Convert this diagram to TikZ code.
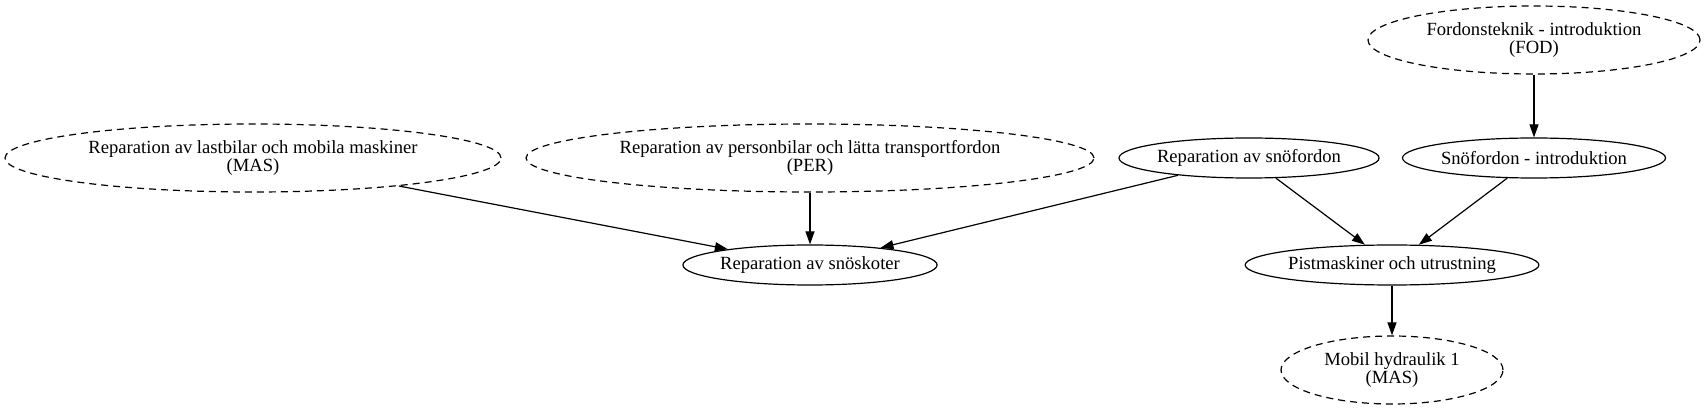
\documentclass[tikz,border=0pt]{standalone}
\usepackage{fontspec}
\setmainfont{Liberation Serif}
\usetikzlibrary{shapes.geometric,arrows.meta}

\begin{document}
\begin{tikzpicture}[x=1pt, y=-1pt,
    kurs_node/.style={ellipse,draw,line width=1.2pt,inner sep=0pt,align=center,
        font=\fontsize{18.6}{18}\selectfont},
    extern_node/.style={kurs_node,dash pattern=on 7pt off 5pt},
    krav/.style={line width=1.2pt,-{Triangle[length=13pt,width=9pt]}}]

    \useasboundingbox (0,0) rectangle (1707,411);

    \node[extern_node,minimum width=332pt,minimum height=68pt] (fod) at (1534,40) {Fordonsteknik - introduktion\\(FOD)};
    \node[extern_node,minimum width=496pt,minimum height=68pt] (mas) at (253,158) {Reparation av lastbilar och mobila maskiner\\(MAS)};
    \node[extern_node,minimum width=568pt,minimum height=68pt] (per) at (810,158) {Reparation av personbilar och l\"atta transportfordon\\(PER)};
    \node[kurs_node,minimum width=256pt,minimum height=40pt] (snorep) at (1249,158) {Reparation av sn\"ofordon};
    \node[kurs_node,minimum width=262pt,minimum height=40pt] (snointro) at (1534,158) {Sn\"ofordon - introduktion};
    \node[kurs_node,minimum width=254pt,minimum height=40pt] (skoter) at (810,265) {Reparation av sn\"oskoter};
    \node[kurs_node,minimum width=290pt,minimum height=40pt] (pist) at (1392,265) {Pistmaskiner och utrustning};
    \node[extern_node,minimum width=222pt,minimum height=68pt] (hydr) at (1392,370) {Mobil hydraulik 1\\(MAS)};

    \draw[krav] (mas) -- (skoter);
    \draw[krav] (per) -- (skoter);
    \draw[krav] (snorep) -- (skoter);
    \draw[krav] (snorep) -- (pist);
    \draw[krav] (snointro) -- (pist);
    \draw[krav] (fod) -- (snointro);
    \draw[krav] (pist) -- (hydr);
\end{tikzpicture}
\end{document}
